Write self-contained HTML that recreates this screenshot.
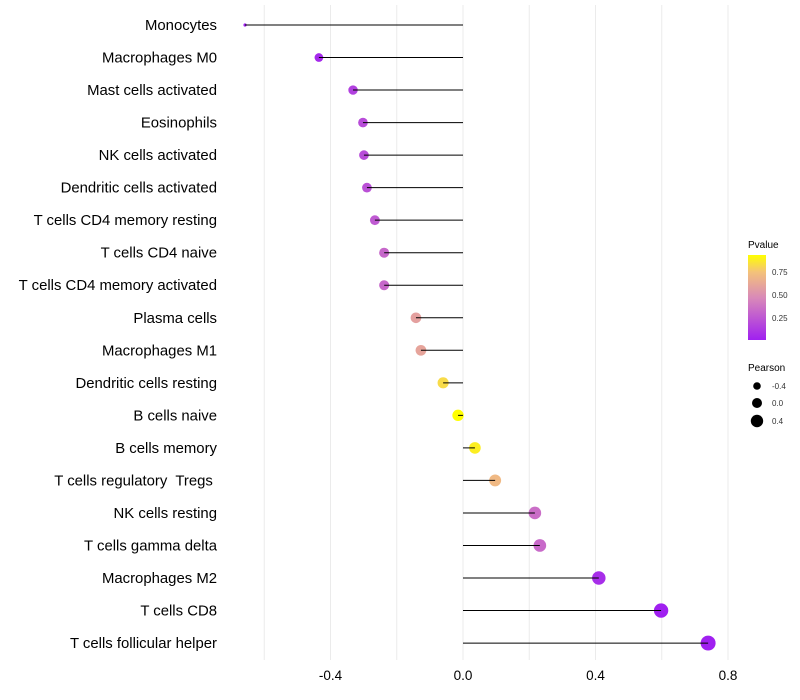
<!DOCTYPE html>
<html><head><meta charset="utf-8"><style>
body{margin:0;background:#fff;}
svg{display:block;font-family:"Liberation Sans",sans-serif;}
#labels text{white-space:pre;}
</style></head><body>
<svg id="chart" width="800" height="700">
<defs><linearGradient id="pgrad" x1="0" y1="1" x2="0" y2="0">
<stop offset="0" stop-color="#a020f0"/><stop offset="0.5" stop-color="#d98ab8"/><stop offset="0.8" stop-color="#f4c27a"/><stop offset="1" stop-color="#ffff00"/></linearGradient></defs>
<g id="grid"></g>
<g id="marks"></g>
<g id="labels"></g>
<g id="xticks"></g>
<g>
<text x="748" y="248" font-size="10" fill="#000">Pvalue</text>
<rect x="748" y="255" width="18" height="85" fill="url(#pgrad)"/>
<text x="772" y="275" font-size="8" fill="#333">0.75</text>
<text x="772" y="298" font-size="8" fill="#333">0.50</text>
<text x="772" y="321" font-size="8" fill="#333">0.25</text>
</g>
<g>
<text x="748" y="371" font-size="10" fill="#000">Pearson</text>
<circle cx="757" cy="386" r="3.8" fill="#000"/><text x="772" y="389" font-size="8" fill="#333">-0.4</text>
<circle cx="757" cy="403" r="5" fill="#000"/><text x="772" y="406" font-size="8" fill="#333">0.0</text>
<circle cx="757" cy="421" r="6.2" fill="#000"/><text x="772" y="424" font-size="8" fill="#333">0.4</text>
</g>
</svg>
<script>
const categories=["Monocytes","Macrophages M0","Mast cells activated","Eosinophils","NK cells activated","Dendritic cells activated","T cells CD4 memory resting","T cells CD4 naive","T cells CD4 memory activated","Plasma cells","Macrophages M1","Dendritic cells resting","B cells naive","B cells memory","T cells regulatory  Tregs ","NK cells resting","T cells gamma delta","Macrophages M2","T cells CD8","T cells follicular helper"];
const pearson=[-0.658,-0.435,-0.332,-0.302,-0.299,-0.29,-0.266,-0.238,-0.238,-0.142,-0.127,-0.06,-0.015,0.036,0.097,0.217,0.232,0.41,0.598,0.74];
const pvalues=[0.01,0.05,0.15,0.2,0.2,0.22,0.26,0.32,0.32,0.58,0.6,0.82,0.93,0.88,0.7,0.35,0.33,0.07,0.01,0.005];
const xTicks=[-0.4,0.0,0.4,0.8];
const xGrid=[-0.6,-0.4,-0.2,0,0.2,0.4,0.6,0.8];
const NS="http://www.w3.org/2000/svg";
const xs=v=>463+v*331.25;
const ys=i=>25+i*32.53;
function mk(t,a,p){const e=document.createElementNS(NS,t);for(const k in a)e.setAttribute(k,a[k]);p.appendChild(e);return e;}
function lerp(a,b,t){return a+(b-a)*t;}
function hex(h){return [parseInt(h.slice(1,3),16),parseInt(h.slice(3,5),16),parseInt(h.slice(5,7),16)];}
const stops=[[0,"#a020f0"],[0.5,"#d98ab8"],[0.8,"#f4c27a"],[1,"#ffff00"]];
function col(p){const t=Math.max(0,Math.min(1,(p-0.01)/0.92));for(let i=0;i<stops.length-1;i++){if(t<=stops[i+1][0]){const u=(t-stops[i][0])/(stops[i+1][0]-stops[i][0]);const a=hex(stops[i][1]),b=hex(stops[i+1][1]);return `rgb(${a.map((c,j)=>Math.round(lerp(c,b[j],u))).join(",")})`;}}return "#ffff00";}
const mn=Math.min(...pearson),mx=Math.max(...pearson);
const rad=v=>{const t=(v-mn)/(mx-mn);return t<0.01?1.6:Math.sqrt(12+t*44);};
const grid=document.getElementById('grid'),marks=document.getElementById('marks'),labels=document.getElementById('labels'),xt=document.getElementById('xticks');
xGrid.forEach(g=>{const l=mk('line',{x1:xs(g),x2:xs(g),y1:5,y2:660,stroke:'#ebebeb','stroke-width':1},grid);

});
categories.forEach((c,i)=>{
const y=ys(i);
const pt=mk('circle',{cx:xs(pearson[i]),cy:y,r:rad(pearson[i]),fill:col(pvalues[i])},marks);


const ln=mk('line',{x1:xs(0),x2:xs(pearson[i]),y1:y,y2:y,stroke:'#000','stroke-width':1},marks);


const t=mk('text',{x:217,y:y+5,'text-anchor':'end','font-size':14.9,fill:'#000'},labels);
t.textContent=c;


});
xTicks.forEach(v=>{const t=mk('text',{x:xs(v),y:680,'text-anchor':'middle','font-size':13.5,fill:'#000'},xt);
t.textContent=v.toFixed(1);

});
</script>
</body></html>
